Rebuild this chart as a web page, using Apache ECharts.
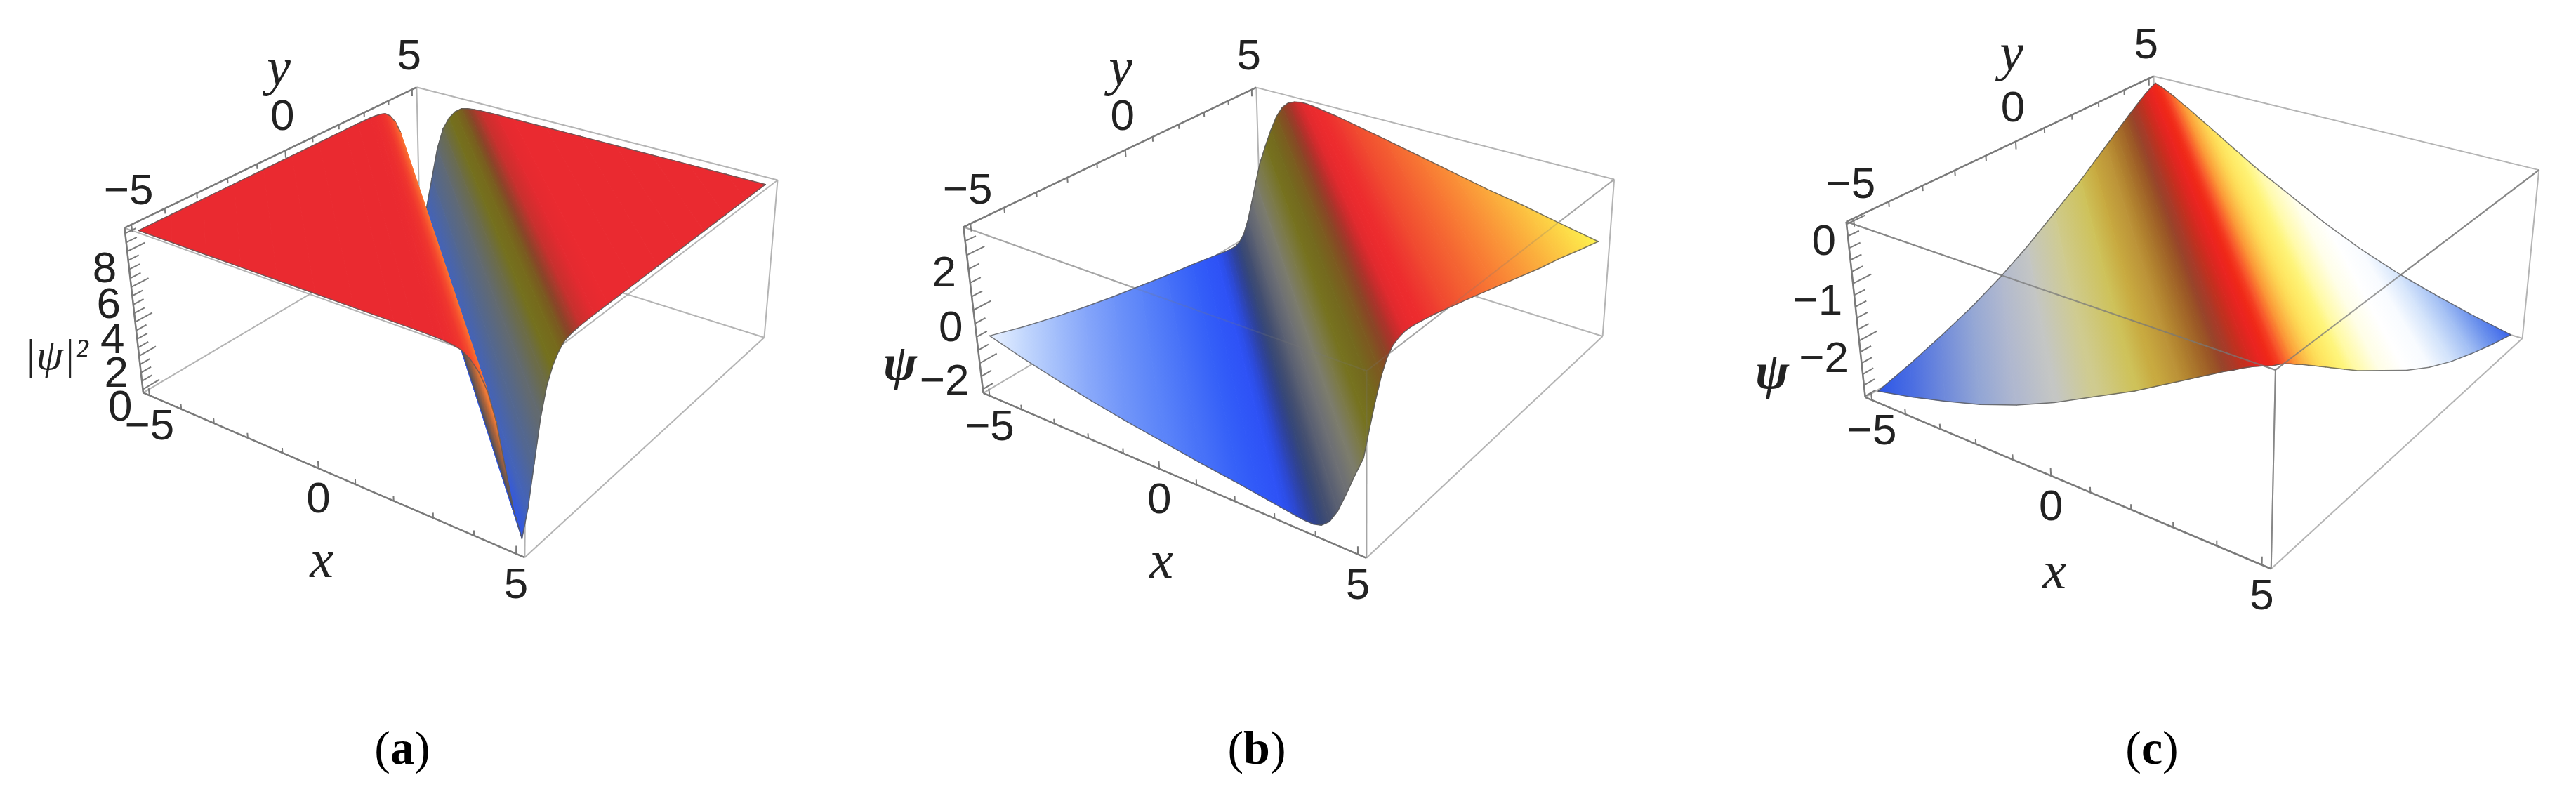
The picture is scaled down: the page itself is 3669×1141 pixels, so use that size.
<!DOCTYPE html>
<html>
<head>
<meta charset="utf-8">
<title>surfaces</title>
<script src="https://cdn.jsdelivr.net/npm/echarts@6/dist/echarts.min.js"></script>
<style>
html, body { margin: 0; padding: 0; background: #fff; }
#chart { width: 3669px; height: 1141px; }
</style>
</head>
<body>
<div id="chart"></div>
<script>
// every surface only depends on s = x + y, so one profile per panel is enough
var sGrid = [-10,-9,-8,-7,-6,-5,-4,-3,-2.5,-2,-1.8,-1.6,-1.4,-1.2,-1,-0.8,-0.6,-0.4,-0.2,0,0.2,0.4,0.6,0.8,1,1.2,1.4,1.6,1.8,2,2.5,3,4,5,6,7,8,9,10];

var psiSquared = [9.1,9.1,9.1,9.1,9.1,9.1,9.1,9.1,9.1,9.08,9.05,9.0,8.9,8.6,8.1,7.3,5.9,3.8,1.7,0.33,1.7,3.8,5.9,7.3,8.1,8.6,8.9,9.0,9.05,9.08,9.1,9.1,9.1,9.1,9.1,9.1,9.1,9.1,9.1];
var psiKink = [-1.0,-1.35,-1.65,-1.92,-2.15,-2.35,-2.55,-2.72,-2.82,-2.92,-2.96,-3.0,-3.03,-3.03,-2.95,-2.7,-2.2,-1.5,-0.75,-0.05,0.75,1.5,2.15,2.6,2.85,2.95,3.0,3.0,2.97,2.93,2.82,2.68,2.4,2.1,1.8,1.5,1.25,0.95,0.67];
var psiCusp = [-2.93,-2.78,-2.6,-2.4,-2.15,-1.85,-1.5,-1.15,-0.95,-0.75,-0.67,-0.59,-0.51,-0.43,-0.35,-0.28,-0.2,-0.13,-0.07,-0.02,-0.07,-0.13,-0.2,-0.28,-0.35,-0.43,-0.51,-0.59,-0.67,-0.75,-0.95,-1.15,-1.5,-1.85,-2.15,-2.4,-2.6,-2.78,-2.93];

var colorsA = ['#ea2a30','#ea2a30','#ea2a30','#ea2a30','#ea2a30','#ea2a30','#ea2a30','#ea2a30','#ea2a30','#ea2a30','#eb2b30','#ec2e2f','#ef362e','#f4482e','#f8602f','#fa7030','#f07a36','#a0603c','#50505c','#2f56e8','#4463b8','#536790','#626a70','#6c6c48','#74701e','#766a1c','#7a5a20','#8a4428','#a83a2c','#c8302e','#e42a30','#ea2a30','#ea2a30','#ea2a30','#ea2a30','#ea2a30','#ea2a30','#ea2a30','#ea2a30'];
var colorsB = ['#eaf2ff','#c4d8fd','#a4bffb','#87a7fa','#6f94f9','#5b84f9','#4872f8','#3560f8','#3058f8','#2e52f6','#2c4ee8','#2c48d0','#2d44ae','#2f4290','#364778','#444f70','#5a6072','#6e7074','#7c7c6c','#7c7a48','#76721f','#74691e','#7c5a20','#8a4526','#a8342a','#c82c2c','#e02a2e','#e82a2e','#ec2b2e','#ed2c2e','#ee3a30','#f04a30','#f46232','#f87a34','#fa9238','#fbab3c','#fcc542','#fddc48','#fdf250'];
var colorsC = ['#2d57e8','#4a6de2','#6f8adb','#93a6d5','#b0b8cf','#c4c6c4','#cfcb90','#cec25a','#c8aa40','#bc9338','#b38530','#aa762c','#a26628','#9a5626','#98442a','#a83a28','#c0301f','#d82820','#ea2420','#f02818','#f43a20','#f85a2c','#fa7a30','#fb9838','#fcae40','#fcc04a','#fdd050','#fddc58','#fee460','#feea66','#fef47a','#fffaa8','#fffee8','#ffffff','#f8fbff','#d4e4fb','#a4c0f4','#6a90ec','#3a63ea'];

var xyTicks = [-5,-4,-3,-2,-1,0,1,2,3,4,5];
var xyLabels = [-5,0,5];
var zTicksA = [0,0.5,1,1.5,2,2.5,3,3.5,4,4.5,5,5.5,6,6.5,7,7.5,8,8.5,9];
var zLabelsA = [0,2,4,6,8];
var zTicksB = [-3,-2.5,-2,-1.5,-1,-0.5,0,0.5,1,1.5,2,2.5,3];
var zLabelsB = [-2,0,2];
var zTicksC = [-3,-2.8,-2.6,-2.4,-2.2,-2,-1.8,-1.6,-1.4,-1.2,-1,-0.8,-0.6,-0.4,-0.2,0];
var zLabelsC = [-2,-1,0];

var axisRange = [-5.2, 5.2];
var SANS = '"Liberation Sans",sans-serif';
var SERIF = '"Liberation Serif",serif';

// box corners seen in the picture: [u, v, t] of the unit box -> pixel
var panels = [
    {
        profile: psiSquared, colors: colorsA, zRange: [-0.2, 9.3], zTicks: zTicksA, zLabels: zLabelsA,
        frontAlpha: 0, edge: 'rgba(90,90,90,0.8)', caption: 'a', captionAt: [573, 1070],
        anchors: [
            [[0,0,0],[203,561]], [[1,0,0],[749,794]], [[0,0,1],[179.5,324]], [[0,1,1],[591,125.7]],
            [[1,1,1],[1110.5,257]], [[1,1,0],[1085.5,482]], [[1,0,1],[749,527]], [[0,1,0],[601,323]],
            [[0.5,0,0],[452.6,668]], [[0,0.5,1],[405,215]]
        ],
        zName: '|\u03c8|\u00b2', zNameFont: 'italic 62px ', zNameAt: [80, 510], xNameAt: [458, 802], yNameAt: [397, 101]
    },
    {
        profile: psiKink, colors: colorsB, zRange: [-3.15, 3.0], zTicks: zTicksB, zLabels: zLabelsB,
        frontAlpha: 0.25, edge: 'rgba(90,90,90,0.8)', caption: 'b', captionAt: [1790, 1070],
        anchors: [
            [[0,0,0],[1400,561]], [[1,0,0],[1946.6,794]], [[0,0,1],[1373,323]], [[0,1,1],[1787.7,125.7]],
            [[1,1,1],[2300,254]], [[1,1,0],[2281,482]], [[1,0,1],[1948,527]], [[0,1,0],[1798,323]],
            [[0.5,0,0],[1650,668]], [[0,0.5,1],[1602,215]]
        ],
        zName: '\u03c8', zNameFont: 'italic bold 72px ', zNameAt: [1282, 522], xNameAt: [1654, 803], yNameAt: [1596, 101]
    },
    {
        profile: psiCusp, colors: colorsC, zRange: [-3.02, 0.04], zTicks: zTicksC, zLabels: zLabelsC,
        frontAlpha: 0.75, edge: 'rgba(90,90,90,0.8)', caption: 'c', captionAt: [3065, 1070],
        anchors: [
            [[0,0,0],[2656,565]], [[1,0,0],[3236,812]], [[0,0,1],[2629,315]], [[0,1,1],[3067.4,106]],
            [[1,1,1],[3617,242.6]], [[1,1,0],[3591.5,482]], [[1,0,1],[3239.6,525]],
            [[0.5,0,0],[2922,677]], [[0,0.5,1],[2872,206]]
        ],
        zName: '\u03c8', zNameFont: 'italic bold 72px ', zNameAt: [2524, 534], xNameAt: [2926, 818], yNameAt: [2865, 80]
    }
];

var boxEdges = [
    [[0,0,0],[1,0,0]], [[0,0,0],[0,1,0]], [[1,0,0],[1,1,0]], [[0,1,0],[1,1,0]],
    [[0,0,1],[1,0,1]], [[0,0,1],[0,1,1]], [[1,0,1],[1,1,1]], [[0,1,1],[1,1,1]],
    [[0,0,0],[0,0,1]], [[1,0,0],[1,0,1]], [[0,1,0],[0,1,1]], [[1,1,0],[1,1,1]]
];
var frontEdges = [[[0,0,1],[1,0,1]], [[1,0,1],[1,1,1]], [[1,0,0],[1,0,1]]];
var axisEdges = [[[0,0,0],[1,0,0]], [[0,0,1],[0,1,1]], [[0,0,0],[0,0,1]]];

function solve(m, r){
    var n = r.length;
    for(var i = 0; i < n; i++){
        var p = i;
        for(var k = i + 1; k < n; k++){
            if(Math.abs(m[k][i]) > Math.abs(m[p][i])) p = k;
        }
        var tm = m[i]; m[i] = m[p]; m[p] = tm;
        var tr = r[i]; r[i] = r[p]; r[p] = tr;
        for(var k = i + 1; k < n; k++){
            var f = m[k][i] / m[i][i];
            for(var j = i; j < n; j++) m[k][j] -= f * m[i][j];
            r[k] -= f * r[i];
        }
    }
    var out = [];
    for(var i = n - 1; i >= 0; i--){
        var v = r[i];
        for(var j = i + 1; j < n; j++) v -= m[i][j] * out[j];
        out[i] = v / m[i][i];
    }
    return out;
}

// least squares fit of a perspective camera to the anchors
function fitCamera(anchors){
    var rows = [], rhs = [];
    anchors.forEach(function(a){
        var P = a[0], sx = a[1][0], sy = a[1][1];
        rows.push([P[0],P[1],P[2],1,0,0,0,0,-sx*P[0],-sx*P[1],-sx*P[2]]);
        rhs.push(sx);
        rows.push([0,0,0,0,P[0],P[1],P[2],1,-sy*P[0],-sy*P[1],-sy*P[2]]);
        rhs.push(sy);
    });
    var N = [], b = [];
    for(var i = 0; i < 11; i++){
        N.push([]);
        b.push(0);
        for(var j = 0; j < 11; j++){
            var sum = 0;
            for(var k = 0; k < rows.length; k++) sum += rows[k][i] * rows[k][j];
            N[i].push(sum);
        }
        for(var k = 0; k < rows.length; k++) b[i] += rows[k][i] * rhs[k];
    }
    return solve(N, b);
}

panels.forEach(function(p){
    p.cam = fitCamera(p.anchors);
});

function project(p, P){
    var c = p.cam;
    var w = c[8]*P[0] + c[9]*P[1] + c[10]*P[2] + 1;
    return [
        (c[0]*P[0] + c[1]*P[1] + c[2]*P[2] + c[3]) / w,
        (c[4]*P[0] + c[5]*P[1] + c[6]*P[2] + c[7]) / w
    ];
}

function toBox(p, x, y, z){
    return [
        (x - axisRange[0]) / (axisRange[1] - axisRange[0]),
        (y - axisRange[0]) / (axisRange[1] - axisRange[0]),
        (z - p.zRange[0]) / (p.zRange[1] - p.zRange[0])
    ];
}

// the two ends of the line x + y = s inside the square
function isoEnds(s){
    if(s <= 0) return [[-5, s + 5], [s + 5, -5]];
    return [[s - 5, 5], [5, s - 5]];
}

function stripItem(p, idx, api){
    var ea = isoEnds(sGrid[idx]), eb = isoEnds(sGrid[idx + 1]);
    var za = p.profile[idx], zb = p.profile[idx + 1];
    var a1 = api.coord(project(p, toBox(p, ea[0][0], ea[0][1], za)));
    var a2 = api.coord(project(p, toBox(p, ea[1][0], ea[1][1], za)));
    var b1 = api.coord(project(p, toBox(p, eb[0][0], eb[0][1], zb)));
    var b2 = api.coord(project(p, toBox(p, eb[1][0], eb[1][1], zb)));

    var da = [a2[0] - a1[0], a2[1] - a1[1]], db = [b2[0] - b1[0], b2[1] - b1[1]];
    var d = Math.hypot(da[0], da[1]) > Math.hypot(db[0], db[1]) ? da : db;
    var len = Math.hypot(d[0], d[1]);
    var n = [-d[1] / len, d[0] / len];
    var m0 = [(a1[0] + a2[0]) / 2, (a1[1] + a2[1]) / 2], m1 = [(b1[0] + b2[0]) / 2, (b1[1] + b2[1]) / 2];
    var g = (m1[0] - m0[0]) * n[0] + (m1[1] - m0[1]) * n[1];
    if(Math.abs(g) < 0.5) g = 0.5;
    var grad = new echarts.graphic.LinearGradient(m0[0], m0[1], m0[0] + n[0] * g, m0[1] + n[1] * g, [
        {offset: 0, color: p.colors[idx]},
        {offset: 1, color: p.colors[idx + 1]}
    ], true);

    return {
        type: 'group',
        children: [
            {type: 'polygon', shape: {points: [a1, a2, b2, b1]}, style: {fill: grad, stroke: grad, lineWidth: 1}},
            {type: 'line', shape: {x1: a1[0], y1: a1[1], x2: b1[0], y2: b1[1]}, style: {stroke: p.edge, lineWidth: 1.5, lineCap: 'round'}},
            {type: 'line', shape: {x1: a2[0], y1: a2[1], x2: b2[0], y2: b2[1]}, style: {stroke: p.edge, lineWidth: 1.5, lineCap: 'round'}}
        ]
    };
}

function lineItem(p, api, A, B, color, width){
    var a = api.coord(project(p, A)), b = api.coord(project(p, B));
    return {type: 'line', shape: {x1: a[0], y1: a[1], x2: b[0], y2: b[1]}, style: {stroke: color, lineWidth: width}};
}

function textItem(api, at, text, style){
    var c = api.coord(at);
    return {
        type: 'text',
        style: echarts.util.extend({
            text: text, x: c[0], y: c[1], fill: '#222',
            align: 'center', verticalAlign: 'middle', textAlign: 'center', textVerticalAlign: 'middle'
        }, style)
    };
}

function customSeries(data, renderItem){
    return {
        type: 'custom', coordinateSystem: 'cartesian2d', clip: false, silent: true,
        animation: false, progressive: 0, data: data, renderItem: renderItem
    };
}

function indices(n, reverse){
    var out = [];
    for(var i = 0; i < n; i++) out.push(reverse ? n - 1 - i : i);
    return out;
}

function tickList(p){
    var list = [];
    xyTicks.forEach(function(v){
        var major = xyLabels.indexOf(v) >= 0;
        var P = toBox(p, v, axisRange[0], p.zRange[0]);
        list.push([P, [P[0], P[1], P[2] + (major ? 0.045 : 0.03)]]);
        P = toBox(p, axisRange[0], v, p.zRange[1]);
        list.push([P, [P[0], P[1], P[2] - (major ? 0.045 : 0.03)]]);
    });
    p.zTicks.forEach(function(v){
        var major = p.zLabels.indexOf(v) >= 0;
        var P = toBox(p, axisRange[0], axisRange[0], v);
        list.push([P, [P[0], P[1] + (major ? 0.05 : 0.03), P[2]]]);
    });
    return list;
}

function numText(v){
    return (v < 0 ? '\u2212' + (-v) : '' + v);
}

function labelList(p){
    var list = [];
    var font = {font: '62px ' + SANS};
    xyLabels.forEach(function(v){
        var t = project(p, toBox(p, v, axisRange[0], p.zRange[0]));
        list.push({at: [t[0], t[1] + 46], text: numText(v), style: font});
        t = project(p, toBox(p, axisRange[0], v, p.zRange[1]));
        list.push({at: [t[0] - 4, t[1] - 46], text: numText(v), style: font});
    });
    p.zLabels.forEach(function(v){
        var t = project(p, toBox(p, axisRange[0], axisRange[0], v));
        list.push({at: [t[0] - 15, t[1] + 27], text: numText(v), style: {font: font.font, align: 'right', textAlign: 'right'}});
    });
    var italic = {font: 'italic 76px ' + SERIF};
    list.push({at: p.xNameAt, text: 'x', style: italic});
    list.push({at: p.yNameAt, text: 'y', style: italic});
    list.push({at: p.zNameAt, text: p.zName, style: {font: p.zNameFont + SERIF}});
    list.push({
        at: p.captionAt,
        text: '{n|(}{b|' + p.caption + '}{n|)}',
        style: {
            fill: '#000',
            rich: {
                n: {font: '68px ' + SERIF, fill: '#000'},
                b: {font: 'bold 68px ' + SERIF, fill: '#000'}
            }
        }
    });
    return list;
}

var series = [];
panels.forEach(function(p){
    var back = boxEdges, ticks = tickList(p), labels = labelList(p);
    series.push(customSeries(indices(back.length), function(params, api){
        var e = back[api.value(0)];
        return lineItem(p, api, e[0], e[1], '#b4b4b4', 2);
    }));
    series.push(customSeries(indices(axisEdges.length), function(params, api){
        var e = axisEdges[api.value(0)];
        return lineItem(p, api, e[0], e[1], '#7a7a7a', 2.5);
    }));
    series.push(customSeries(indices(ticks.length), function(params, api){
        var e = ticks[api.value(0)];
        return lineItem(p, api, e[0], e[1], '#7a7a7a', 2);
    }));
    // painted from the far side (s = 10) to the camera side (s = -10)
    series.push(customSeries(indices(sGrid.length - 1, true), function(params, api){
        return stripItem(p, api.value(0), api);
    }));
    if(p.frontAlpha > 0){
        series.push(customSeries(indices(frontEdges.length), function(params, api){
            var e = frontEdges[api.value(0)];
            return lineItem(p, api, e[0], e[1], 'rgba(120,120,120,' + p.frontAlpha + ')', 2);
        }));
    }
    series.push(customSeries(indices(labels.length), function(params, api){
        var l = labels[api.value(0)];
        return textItem(api, l.at, l.text, l.style);
    }));
});

var canvas = echarts.init(document.getElementById('chart'));
canvas.setOption({
    animation: false,
    backgroundColor: '#fff',
    grid: {left: 0, right: 0, top: 0, bottom: 0},
    xAxis: {type: 'value', min: 0, max: 3669, show: false},
    yAxis: {type: 'value', min: 0, max: 1141, inverse: true, show: false},
    series: series
});
</script>
</body>
</html>
